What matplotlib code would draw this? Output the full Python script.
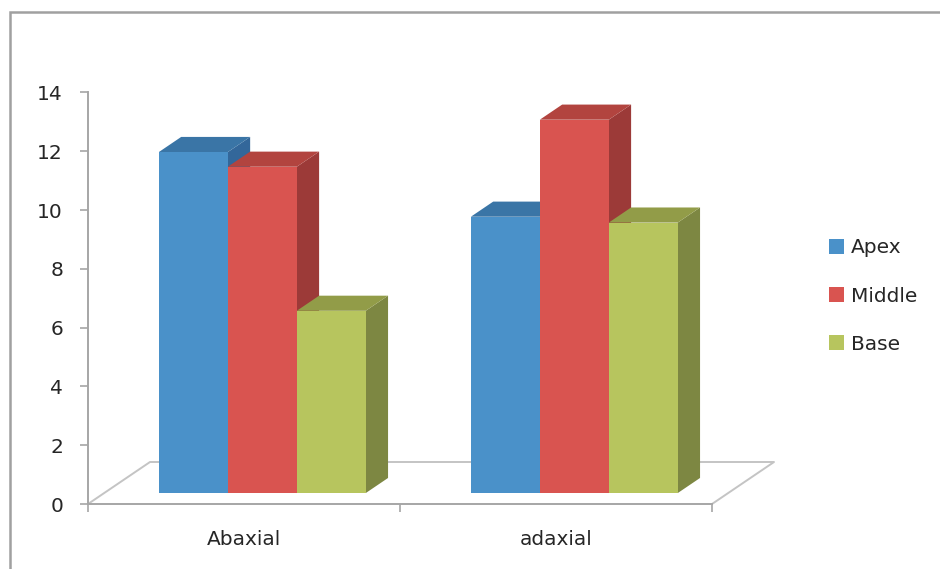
import matplotlib.pyplot as plt
from matplotlib.patches import Polygon, Patch, Rectangle

# data
categories = ['Abaxial', 'adaxial']
series = ['Apex', 'Middle', 'Base']
apex = [11.6, 9.4]
middle = [11.1, 12.7]
base = [6.2, 9.2]
yticks = [0, 2, 4, 6, 8, 10, 12, 14]

values = [apex, middle, base]
front_col = ['#4A91C9', '#D95450', '#B7C55E']
top_col = ['#3A75A6', '#B2443F', '#929C48']
side_col = ['#33679A', '#9C3A38', '#7D8742']

plt.rcParams['font.family'] = ['DejaVu Sans']

W, H = 940, 569
fig = plt.figure(figsize=(W / 100, H / 100), dpi=100)
ax = fig.add_axes([88 / W, 65 / H, 624 / W, 411.6 / H])
ax.set_xlim(0, 2)
ax.set_ylim(0, 14)

# oblique depth (full floor) in data units
FX, FY = 62 / 312, 42 / 29.4
f0, f1 = 0.26, 0.62
bw = 0.221
shift = 0.007

# floor outline
floor = [(0, 0), (FX, FY), (2 + FX, FY), (2, 0)]
ax.plot([p[0] for p in floor], [p[1] for p in floor], color='#C4C4C4',
        lw=1.4, clip_on=False, zorder=1)

for i in range(len(categories)):
    for j in range(len(series)):
        v = values[j][i]
        L = i + 0.5 + (j - 1.5) * bw + shift
        R = L + bw
        x0, y0 = f0 * FX, f0 * FY
        x1, y1 = f1 * FX, f1 * FY
        z = 3 + i * 3 + j
        front = Polygon([(L + x0, y0), (R + x0, y0), (R + x0, y0 + v), (L + x0, y0 + v)],
                        closed=True, fc=front_col[j], ec='none', clip_on=False, zorder=z)
        side = Polygon([(R + x0, y0), (R + x1, y1), (R + x1, y1 + v), (R + x0, y0 + v)],
                       closed=True, fc=side_col[j], ec='none', clip_on=False, zorder=z)
        top = Polygon([(L + x0, y0 + v), (R + x0, y0 + v), (R + x1, y1 + v), (L + x1, y1 + v)],
                      closed=True, fc=top_col[j], ec='none', clip_on=False, zorder=z)
        ax.add_patch(side)
        ax.add_patch(top)
        ax.add_patch(front)

for s in ['top', 'right']:
    ax.spines[s].set_visible(False)
for s in ['left', 'bottom']:
    ax.spines[s].set_color('#A6A6A6')
    ax.spines[s].set_linewidth(1.4)

ax.set_yticks(yticks)
ax.tick_params(axis='y', direction='out', length=6, width=1.2, color='#A6A6A6',
               pad=12, labelsize=14.5, labelcolor='#262626')
ax.set_xticks([0, 1, 2])
ax.set_xticklabels([])
ax.tick_params(axis='x', which='major', direction='out', length=6, width=1.2, color='#A6A6A6')
ax.set_xticks([0.5, 1.5], minor=True)
ax.set_xticklabels(categories, minor=True)
ax.tick_params(axis='x', which='minor', length=0, pad=19, labelsize=14.5, labelcolor='#262626')

handles = [Patch(fc=c, ec='none') for c in front_col]
fig.legend(handles, series, loc='center left', bbox_to_anchor=(811 / W, 1 - 296 / H),
           frameon=False, fontsize=14.5, handlelength=0.75, handleheight=0.75,
           handletextpad=0.35, labelspacing=1.45, labelcolor='#262626')

# chart area border
fig.patches.append(Rectangle((10 / W, -0.1), 1.2, 1 - 12 / H + 0.1, transform=fig.transFigure,
                             fill=False, ec='#A0A0A0', lw=1.8))

fig.savefig('out.png', dpi=100)
